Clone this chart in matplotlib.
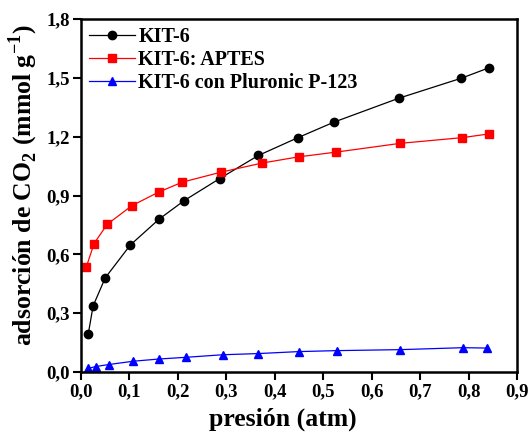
import matplotlib
matplotlib.use("Agg")
import matplotlib.pyplot as plt
from matplotlib.ticker import FuncFormatter, MultipleLocator

plt.rcParams['font.family'] = ['Liberation Serif', 'DejaVu Serif']
plt.rcParams['font.weight'] = 'bold'
plt.rcParams['mathtext.fontset'] = 'custom'
plt.rcParams['mathtext.rm'] = 'Liberation Serif:bold'
plt.rcParams['mathtext.bf'] = 'Liberation Serif:bold'

# KIT-6
p_kit = [0.015, 0.025, 0.050, 0.102, 0.161, 0.213, 0.286, 0.366, 0.447, 0.522, 0.656, 0.785, 0.842]
q_kit = [0.194, 0.337, 0.480, 0.648, 0.779, 0.874, 0.986, 1.104, 1.194, 1.274, 1.396, 1.498, 1.551]

# KIT-6: APTES
p_aptes = [0.011, 0.027, 0.054, 0.105, 0.160, 0.209, 0.289, 0.373, 0.449, 0.526, 0.659, 0.787, 0.842]
q_aptes = [0.536, 0.655, 0.753, 0.848, 0.917, 0.968, 1.019, 1.065, 1.097, 1.121, 1.166, 1.195, 1.214]

# KIT-6 con Pluronic P-123
p_plur = [0.014, 0.031, 0.057, 0.108, 0.160, 0.217, 0.293, 0.366, 0.449, 0.528, 0.659, 0.789, 0.839]
q_plur = [0.018, 0.028, 0.038, 0.055, 0.066, 0.075, 0.088, 0.094, 0.104, 0.109, 0.114, 0.124, 0.122]

fig = plt.figure(figsize=(5.31, 4.32), dpi=100)
ax = fig.add_axes([81/531, 1 - 372/432, (517-81)/531, (372-19)/432])

ax.plot(p_kit, q_kit, color='black', marker='o', markersize=6, lw=0.9, label='KIT-6')
ax.plot(p_aptes, q_aptes, color='red', marker='s', markersize=5.5, lw=0.9, label='KIT-6: APTES')
ax.plot(p_plur, q_plur, color='blue', marker='^', markersize=6, lw=0.9, label='KIT-6 con Pluronic P-123')

ax.set_xlim(0, 0.9)
ax.set_ylim(0, 1.8)
ax.xaxis.set_major_locator(MultipleLocator(0.1))
ax.yaxis.set_major_locator(MultipleLocator(0.3))
fmt = FuncFormatter(lambda v, pos: f"{v:.1f}".replace('.', ','))
ax.xaxis.set_major_formatter(fmt)
ax.yaxis.set_major_formatter(fmt)

for s in ax.spines.values():
    s.set_linewidth(1.8)
ax.tick_params(direction='out', length=6, width=1.5, labelsize=13.5, pad=2)
for lab in ax.get_xticklabels() + ax.get_yticklabels():
    lab.set_fontweight('bold')

ax.set_xlabel('presión (atm)', fontsize=18.5, fontweight='bold')
ax.xaxis.set_label_coords(0.462, -0.100)
ax.set_ylabel(r'adsorción de CO$_2$ (mmol g$^{-1}$)', fontsize=18.5, fontweight='bold')
ax.yaxis.set_label_coords(-0.095, 0.53)

leg = ax.legend(loc='upper left', frameon=False, fontsize=14.5, handlelength=2.3,
                borderaxespad=0.2, handletextpad=0.15, labelspacing=0.15,
                borderpad=0.2)
for t in leg.get_texts():
    t.set_fontweight('bold')

fig.savefig('out.png', dpi=100)
